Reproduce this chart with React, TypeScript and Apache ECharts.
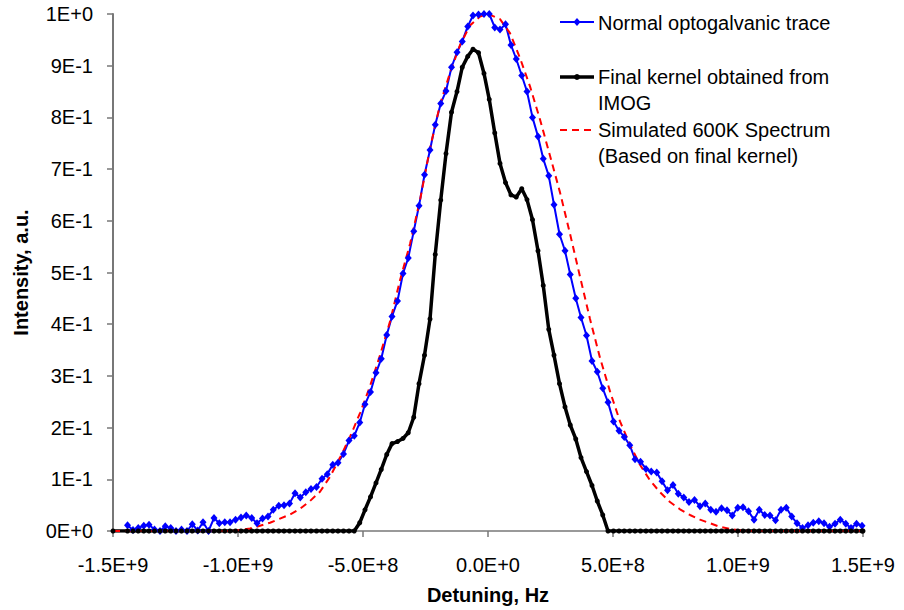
import React, { useEffect, useRef } from "react";
import * as echarts from "echarts";

// Detuning grid of the measured traces, in MHz
const freqMHz = [
  -1442, -1420, -1399, -1377, -1356, -1334, -1312, -1291, -1269, -1248,
  -1226, -1204, -1183, -1161, -1140, -1118, -1096, -1075, -1053, -1032,
  -1010, -988, -967, -945, -924, -902, -880, -859, -837, -816,
  -794, -772, -751, -729, -708, -686, -664, -643, -621, -600,
  -578, -556, -535, -513, -492, -470, -448, -427, -405, -384,
  -362, -340, -319, -297, -276, -254, -232, -211, -189, -168,
  -146, -124, -103, -81, -60, -38, -16, 5, 27, 48,
  70, 92, 113, 135, 156, 178, 200, 221, 243, 264,
  286, 308, 329, 351, 372, 394, 416, 437, 459, 480,
  502, 524, 545, 567, 588, 610, 632, 653, 675, 696,
  718, 740, 761, 783, 804, 826, 848, 869, 891, 912,
  934, 956, 977, 999, 1020, 1042, 1064, 1085, 1107, 1128,
  1150, 1172, 1193, 1215, 1236, 1258, 1280, 1301, 1323, 1344,
  1366, 1388, 1409, 1431, 1452, 1474, 1496,
];

// Normal optogalvanic trace (intensity, a.u.)
const opticalTrace = [
  0.011, 0.002, 0.006, 0.010, 0.012, 0.003, 0.000, 0.009, 0.006, 0.000,
  0.003, 0.000, 0.013, 0.001, 0.017, 0.000, 0.025, 0.015, 0.017, 0.017,
  0.022, 0.026, 0.030, 0.025, 0.015, 0.024, 0.028, 0.041, 0.049, 0.050,
  0.053, 0.073, 0.065, 0.075, 0.081, 0.085, 0.101, 0.110, 0.128, 0.132,
  0.149, 0.175, 0.184, 0.210, 0.245, 0.269, 0.306, 0.333, 0.379, 0.415,
  0.445, 0.498, 0.528, 0.580, 0.629, 0.689, 0.737, 0.786, 0.827, 0.851,
  0.897, 0.926, 0.947, 0.976, 0.997, 0.999, 1.000, 1.000, 0.974, 0.970,
  0.980, 0.940, 0.913, 0.881, 0.850, 0.800, 0.763, 0.720, 0.687, 0.631,
  0.574, 0.542, 0.496, 0.450, 0.413, 0.378, 0.329, 0.308, 0.276, 0.249,
  0.212, 0.194, 0.182, 0.166, 0.139, 0.134, 0.120, 0.115, 0.113, 0.096,
  0.079, 0.089, 0.072, 0.065, 0.056, 0.060, 0.048, 0.053, 0.041, 0.037,
  0.044, 0.040, 0.030, 0.045, 0.046, 0.038, 0.022, 0.041, 0.031, 0.030,
  0.021, 0.041, 0.045, 0.028, 0.015, 0.006, 0.011, 0.016, 0.019, 0.015,
  0.008, 0.014, 0.022, 0.014, 0.006, 0.014, 0.010,
];

// Final kernel obtained from IMOG (on the same grid)
const finalKernel = [
  0, 0, 0, 0, 0, 0, 0, 0, 0, 0,
  0, 0, 0, 0, 0, 0, 0, 0, 0, 0,
  0, 0, 0, 0, 0, 0, 0, 0, 0, 0,
  0, 0, 0, 0, 0, 0, 0, 0, 0, 0,
  0, 0, 0, 0.016, 0.041, 0.066, 0.093, 0.119, 0.148, 0.169,
  0.173, 0.179, 0.190, 0.220, 0.285, 0.340, 0.410, 0.535, 0.640, 0.730,
  0.810, 0.850, 0.897, 0.918, 0.932, 0.925, 0.885, 0.835, 0.770, 0.711,
  0.674, 0.650, 0.646, 0.662, 0.641, 0.602, 0.542, 0.475, 0.390, 0.340,
  0.285, 0.240, 0.205, 0.178, 0.142, 0.115, 0.088, 0.058, 0.031, 0,
  0, 0, 0, 0, 0, 0, 0, 0, 0, 0,
  0, 0, 0, 0, 0, 0, 0, 0, 0, 0,
  0, 0, 0, 0, 0, 0, 0, 0, 0, 0,
  0, 0, 0, 0, 0, 0, 0, 0, 0, 0,
  0, 0, 0, 0, 0, 0, 0,
];
const kernelStartMHz = -1500;
const kernelEndMHz = 1500;

// Simulated 600K spectrum
const simulatedMHz = [
  -1500, -1032, -992, -952, -912, -872, -832, -792, -752, -712,
  -672, -632, -592, -552, -512, -472, -432, -392, -352, -312,
  -272, -232, -192, -152, -112, -72, -32, 0, 48, 88,
  128, 168, 208, 248, 288, 328, 368, 408, 448, 488,
  528, 568, 608, 648, 688, 728, 768, 808, 848, 888,
  928, 968, 1008, 1048, 1500,
];
const simulatedValues = [
  0, 0, 0.002, 0.005, 0.010, 0.016, 0.024, 0.032, 0.043, 0.058,
  0.076, 0.105, 0.142, 0.182, 0.228, 0.280, 0.340, 0.405, 0.485, 0.555,
  0.640, 0.740, 0.825, 0.886, 0.940, 0.978, 0.995, 1.000, 0.990, 0.963,
  0.915, 0.860, 0.796, 0.726, 0.655, 0.575, 0.492, 0.410, 0.335, 0.270,
  0.212, 0.167, 0.128, 0.098, 0.075, 0.056, 0.042, 0.031, 0.022, 0.015,
  0.008, 0.004, 0.001, 0, 0,
];

const seriesNames = [
  "Normal optogalvanic trace",
  "Final kernel obtained from\nIMOG",
  "Simulated 600K Spectrum\n(Based on final kernel)",
];

const xTickValues = [-1.5e9, -1.0e9, -5.0e8, 0, 5.0e8, 1.0e9, 1.5e9];
const xTickLabels = ["-1.5E+9", "-1.0E+9", "-5.0E+8", "0.0E+0", "5.0E+8", "1.0E+9", "1.5E+9"];
const yTickLabels = ["0E+0", "1E-1", "2E-1", "3E-1", "4E-1", "5E-1", "6E-1", "7E-1", "8E-1", "9E-1", "1E+0"];

const FONT = '"Liberation Sans", Arial, sans-serif';
const BLUE = "#0000FF";
const BLACK = "#000000";
const RED = "#FF0000";
const AXIS_GRAY = "#777777";

export default function App() {
  const ref = useRef<HTMLDivElement>(null);

  useEffect(() => {
    if (!ref.current) return;
    const chart = echarts.init(ref.current, undefined, { renderer: "svg" });

    const blueData = freqMHz.map((f, i) => [f * 1e6, opticalTrace[i]]);
    const blackData = [
      [kernelStartMHz * 1e6, 0],
      ...freqMHz.map((f, i) => [f * 1e6, finalKernel[i]]),
      [kernelEndMHz * 1e6, 0],
    ];
    const redData = simulatedMHz.map((f, i) => [f * 1e6, simulatedValues[i]]);

    const legendX1 = 560;
    const legendX2 = 594;
    const legendMid = 577;
    const textX = 598;

    chart.setOption({
      animation: false,
      grid: { left: 113, right: 41, top: 14, bottom: 76 },
      xAxis: {
        type: "value",
        min: -1.5e9,
        max: 1.5e9,
        interval: 5e8,
        name: "Detuning, Hz",
        nameLocation: "middle",
        nameGap: 54,
        nameTextStyle: { fontFamily: FONT, fontSize: 20, fontWeight: "bold", color: "#000" },
        axisLine: { show: true, onZero: false, lineStyle: { color: AXIS_GRAY, width: 1.5 } },
        axisTick: { show: true, length: 6, lineStyle: { color: AXIS_GRAY, width: 1.5 } },
        splitLine: { show: false },
        axisLabel: {
          fontFamily: FONT,
          fontSize: 20,
          color: "#000",
          margin: 24,
          formatter: (v: number) => {
            const i = xTickValues.findIndex((t) => Math.abs(t - v) < 1);
            return i >= 0 ? xTickLabels[i] : "";
          },
        },
      },
      yAxis: {
        type: "value",
        min: 0,
        max: 1,
        interval: 0.1,
        name: "Intensity, a.u.",
        nameLocation: "middle",
        nameRotate: 90,
        nameGap: 82,
        nameTextStyle: { fontFamily: FONT, fontSize: 20, fontWeight: "bold", color: "#000" },
        axisLine: { show: true, onZero: false, lineStyle: { color: AXIS_GRAY, width: 2 } },
        axisTick: { show: true, length: 6, lineStyle: { color: AXIS_GRAY, width: 1.5 } },
        splitLine: { show: false },
        axisLabel: {
          fontFamily: FONT,
          fontSize: 20,
          color: "#000",
          margin: 20,
          formatter: (v: number) => yTickLabels[Math.round(v * 10)] ?? "",
        },
      },
      series: [
        {
          name: seriesNames[0],
          type: "line",
          data: blueData,
          symbol: "diamond",
          symbolSize: [7, 8],
          showSymbol: true,
          itemStyle: { color: BLUE },
          lineStyle: { color: BLUE, width: 2 },
        },
        {
          name: seriesNames[1],
          type: "line",
          data: blackData,
          symbol: "circle",
          symbolSize: 5,
          showSymbol: true,
          itemStyle: { color: BLACK },
          lineStyle: { color: BLACK, width: 3.5 },
        },
        {
          name: seriesNames[2],
          type: "line",
          data: redData,
          symbol: "none",
          showSymbol: false,
          lineStyle: { color: RED, width: 2, type: [7, 5] },
        },
      ],
      graphic: [
        { type: "line", silent: true, shape: { x1: legendX1, y1: 22, x2: legendX2, y2: 22 }, style: { stroke: BLUE, lineWidth: 2 } },
        { type: "polygon", silent: true, shape: { points: [[legendMid, 18], [legendMid + 3.5, 22], [legendMid, 26], [legendMid - 3.5, 22]] }, style: { fill: BLUE } },
        { type: "text", silent: true, x: textX, y: 23, style: { text: seriesNames[0], fontFamily: FONT, fontSize: 20, fill: "#000", verticalAlign: "middle" } },

        { type: "line", silent: true, shape: { x1: legendX1, y1: 77, x2: legendX2, y2: 77 }, style: { stroke: BLACK, lineWidth: 3.5 } },
        { type: "circle", silent: true, shape: { cx: legendMid, cy: 77, r: 3 }, style: { fill: BLACK } },
        { type: "text", silent: true, x: textX, y: 64, style: { text: seriesNames[1], fontFamily: FONT, fontSize: 20, lineHeight: 26, fill: "#000", verticalAlign: "top" } },

        { type: "line", silent: true, shape: { x1: legendX1, y1: 130, x2: legendX2, y2: 130 }, style: { stroke: RED, lineWidth: 2, lineDash: [7, 5] } },
        { type: "text", silent: true, x: textX, y: 117, style: { text: seriesNames[2], fontFamily: FONT, fontSize: 20, lineHeight: 26, fill: "#000", verticalAlign: "top" } },
      ],
    });

    return () => chart.dispose();
  }, []);

  return (
    <div
      ref={ref}
      style={{ position: "fixed", left: 0, top: 0, width: 904, height: 610, background: "#fff" }}
    />
  );
}
